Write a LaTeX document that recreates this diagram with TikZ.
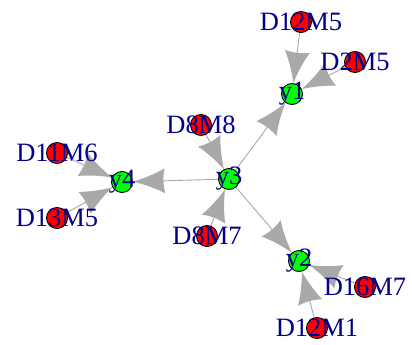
\documentclass[tikz,border=0pt]{standalone}
\usepackage{fontspec}
\setmainfont{Liberation Serif}
\usetikzlibrary{arrows.meta,backgrounds}
\definecolor{edgegray}{HTML}{A9A9A9}
\definecolor{labblue}{RGB}{0,0,139}
\definecolor{vred}{HTML}{FF0000}
\definecolor{vgreen}{HTML}{00FF00}

\pgfdeclarearrow{
  name = IGArrow,
  setup code = {
    \pgfarrowssettipend{0pt}
    \pgfarrowssetlineend{-20pt}
    \pgfarrowssetbackend{-32pt}
    \pgfarrowssetvisualbackend{-30pt}
    \pgfarrowshullpoint{0pt}{0pt}
    \pgfarrowshullpoint{-32pt}{12.5pt}
    \pgfarrowshullpoint{-32pt}{-12.5pt}
  },
  drawing code = {
    \pgfpathmoveto{\pgfpointorigin}
    \pgfpathcurveto{\pgfpoint{-10pt}{2.5pt}}{\pgfpoint{-22pt}{7pt}}{\pgfpoint{-32pt}{12.5pt}}
    \pgfpathcurveto{\pgfpoint{-30pt}{4pt}}{\pgfpoint{-30pt}{-4pt}}{\pgfpoint{-32pt}{-12.5pt}}
    \pgfpathcurveto{\pgfpoint{-22pt}{-7pt}}{\pgfpoint{-10pt}{-2.5pt}}{\pgfpointorigin}
    \pgfpathclose
    \pgfusepathqfill
  }
}

\tikzset{
  vert/.style={circle, draw=black, line width=0.9pt, minimum size=21pt, inner sep=0pt},
  redv/.style={vert, fill=vred},
  greenv/.style={vert, fill=vgreen},
  lab/.style={text=labblue, font=\fontsize{26.5}{30}\selectfont, inner sep=0pt},
  link/.style={color=edgegray, line width=0.9pt, -{IGArrow}},
}

\begin{document}
\begin{tikzpicture}[x=1pt, y=-1pt]
\useasboundingbox (0,0) rectangle (412,345);
% vertices
\node[greenv, label={[lab]center:y1}] (y1) at (292,94) {};
\node[greenv, label={[lab]center:y3}] (y3) at (229,179) {};
\node[greenv, label={[lab]center:y4}] (y4) at (122,182) {};
\node[greenv, label={[lab]center:y2}] (y2) at (299,261) {};
\node[redv, label={[lab]center:D12M5}] (D12M5) at (301,22) {};
\node[redv, label={[lab]center:D2M5}] (D2M5) at (355,62) {};
\node[redv, label={[lab]center:D8M8}] (D8M8) at (201,125) {};
\node[redv, label={[lab]center:D8M7}] (D8M7) at (207,236) {};
\node[redv, label={[lab]center:D11M6}] (D11M6) at (57,153) {};
\node[redv, label={[lab]center:D13M5}] (D13M5) at (57,218) {};
\node[redv, label={[lab]center:D16M7}] (D16M7) at (365,287) {};
\node[redv, label={[lab]center:D12M1}] (D12M1) at (317,328) {};
% edges
\begin{scope}[on background layer]
\fill[white] (0,0) rectangle (412,345);
\draw[link] (D12M5) -- (y1);
\draw[link] (D2M5) -- (y1);
\draw[link] (y3) -- (y1);
\draw[link] (D8M8) -- (y3);
\draw[link] (D8M7) -- (y3);
\draw[link] (y3) -- (y4);
\draw[link] (D11M6) -- (y4);
\draw[link] (D13M5) -- (y4);
\draw[link] (y3) -- (y2);
\draw[link] (D16M7) -- (y2);
\draw[link] (D12M1) -- (y2);
\end{scope}
\end{tikzpicture}
\end{document}
